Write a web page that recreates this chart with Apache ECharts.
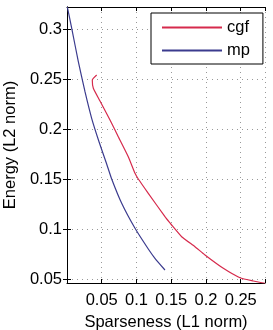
<!DOCTYPE html>
<html><head><meta charset="utf-8">
<script src="https://cdn.jsdelivr.net/npm/echarts@6/dist/echarts.min.js"></script>
<style>html,body{margin:0;padding:0;background:#fff}#c{width:273px;height:330px}</style>
</head><body><div id="c"></div>
<script>
var cgfX = [0.0427, 0.0364, 0.0379, 0.0475, 0.0619, 0.0738, 0.0882, 0.0979, 0.1026, 0.117, 0.141, 0.1506, 0.165, 0.1842, 0.1986, 0.225, 0.249, 0.268, 0.285];
var cgfY = [0.254, 0.249, 0.2407, 0.228, 0.209, 0.1923, 0.1723, 0.1557, 0.15, 0.1357, 0.1123, 0.104, 0.0923, 0.0823, 0.074, 0.0607, 0.0513, 0.048, 0.0457];
var mpX = [0.0005, 0.0068, 0.0163, 0.0259, 0.0355, 0.0462, 0.0571, 0.0643, 0.0787, 0.0979, 0.117, 0.1266, 0.141];
var mpY = [0.322, 0.3007, 0.2673, 0.2373, 0.2107, 0.187, 0.165, 0.15, 0.1257, 0.1007, 0.080, 0.0707, 0.059];
var yTicks = [0.05, 0.1, 0.15, 0.2, 0.25, 0.3];
var xTicks = [0.05, 0.1, 0.15, 0.2, 0.25];

function pairs(xs, ys){ return xs.map(function(x,i){ return [x, ys[i]]; }); }
var FONT = 'Liberation Sans';
var FS = 16.5;
var tickIn = {show:true, inside:true, length:4, lineStyle:{color:'#000'}};
var chart = echarts.init(document.getElementById('c'));
chart.setOption({
  animation:false,
  backgroundColor:'#fff',
  grid:{left:67, top:7, right:8, bottom:47, containLabel:false, outerBoundsMode:'none'},
  legend:{
    left:151, top:13, orient:'vertical',
    padding:[6,13,5,10], itemGap:6, itemWidth:60, itemHeight:14,
    borderColor:'#000', borderWidth:1, backgroundColor:'#fff',
    itemStyle:{opacity:0},
    textStyle:{fontFamily:FONT, fontSize:FS, color:'#000', lineHeight:14},
    data:['cgf','mp']
  },
  xAxis:[{
    type:'value', min:0, max:0.285, interval:0.05,
    name:'Sparseness (L1 norm)', nameLocation:'middle', nameGap:30,
    nameTextStyle:{fontFamily:FONT, fontSize:FS, color:'#000'},
    axisLine:{show:true, lineStyle:{color:'#000'}},
    axisTick:tickIn,
    axisLabel:{fontFamily:FONT, fontSize:FS, color:'#000', margin:9, customValues:xTicks},
    splitLine:{show:true, lineStyle:{color:'#999', type:[1,4], width:1}}
  },{
    type:'value', min:0, max:0.285, interval:0.05, position:'top',
    axisLine:{show:true, lineStyle:{color:'#000'}},
    axisTick:tickIn, axisLabel:{show:false}, splitLine:{show:false}
  }],
  yAxis:[{
    type:'value', min:0.046, max:0.322,
    name:'Energy (L2 norm)', nameLocation:'middle', nameGap:47,
    nameTextStyle:{fontFamily:FONT, fontSize:FS, color:'#000'},
    axisLine:{show:true, lineStyle:{color:'#000'}},
    axisTick:{show:true, inside:true, length:4, lineStyle:{color:'#000'}, customValues:yTicks},
    axisLabel:{fontFamily:FONT, fontSize:FS, color:'#000', margin:5, customValues:yTicks},
    splitLine:{show:true, lineStyle:{color:'#999', type:[1,4], width:1}, customValues:yTicks}
  },{
    type:'value', min:0.046, max:0.322, position:'right',
    axisLine:{show:true, lineStyle:{color:'#000'}},
    axisTick:{show:true, inside:true, length:4, lineStyle:{color:'#000'}, customValues:yTicks},
    axisLabel:{show:false}, splitLine:{show:false}
  }],
  series:[{
    name:'cgf', type:'line', data:pairs(cgfX,cgfY), symbol:'none', smooth:0.15,
    lineStyle:{color:'#d62a4c', width:1.2}, itemStyle:{color:'#d62a4c'}, xAxisIndex:0, yAxisIndex:0
  },{
    name:'mp', type:'line', data:pairs(mpX,mpY), symbol:'none', smooth:0.15,
    lineStyle:{color:'#3b3b8e', width:1.2}, itemStyle:{color:'#3b3b8e'}, xAxisIndex:0, yAxisIndex:0
  }]
});
</script></body></html>
